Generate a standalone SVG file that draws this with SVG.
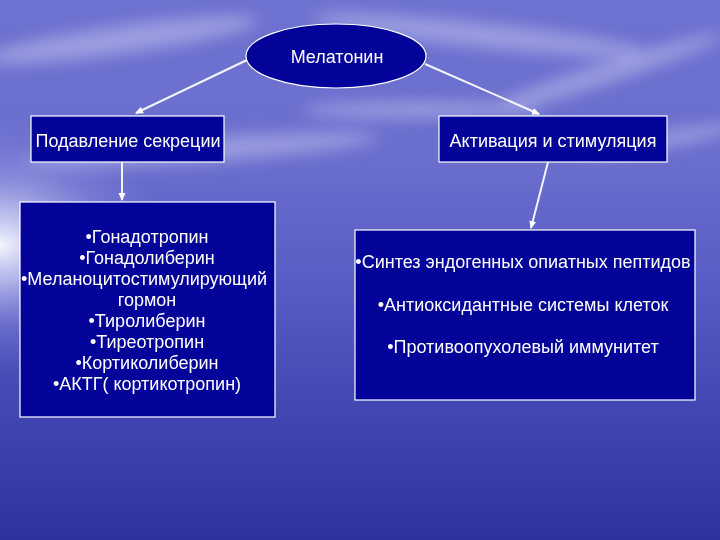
<svg xmlns="http://www.w3.org/2000/svg" width="720" height="540" viewBox="0 0 720 540">
<defs>
<style>
.box{fill:#03039a;stroke:#ffffff;stroke-width:1.2}
.t{font-family:"Liberation Sans",Arial,sans-serif;font-size:18px;fill:#ffffff;text-anchor:middle}
.c{stroke:#f4f4ff;stroke-width:2;fill:none;marker-end:url(#ah)}
</style>
<marker id="ah" markerWidth="8" markerHeight="8" refX="7" refY="4" orient="auto" markerUnits="userSpaceOnUse">
<path d="M0,0.5 L8,4 L0,7.5 z" fill="#ffffff"/>
</marker>
<linearGradient id="bg" x1="0" y1="0" x2="0" y2="1">
<stop offset="0" stop-color="#6e72d0"/>
<stop offset="0.3" stop-color="#6a6ecd"/>
<stop offset="0.5" stop-color="#5a5ec6"/>
<stop offset="0.75" stop-color="#4347b4"/>
<stop offset="1" stop-color="#2e319f"/>
</linearGradient>
<radialGradient id="glow" gradientUnits="userSpaceOnUse" cx="0" cy="245" r="170" gradientTransform="translate(0 245) scale(1 0.75) translate(0 -245)">
<stop offset="0" stop-color="#f4f6ff" stop-opacity="1"/>
<stop offset="0.3" stop-color="#d0d4f4" stop-opacity="0.7"/>
<stop offset="0.65" stop-color="#9ea2e6" stop-opacity="0.3"/>
<stop offset="1" stop-color="#8a8ee0" stop-opacity="0"/>
</radialGradient>
<filter id="blur" x="-50%" y="-50%" width="200%" height="200%"><feGaussianBlur stdDeviation="8"/></filter>
</defs>
<g id="background">
<rect width="720" height="540" fill="url(#bg)"/>
<g filter="url(#blur)" fill="#c9ccf2" opacity="0.5">
<ellipse cx="120" cy="40" rx="140" ry="14" transform="rotate(-8 120 40)"/>
<ellipse cx="480" cy="35" rx="170" ry="12" transform="rotate(6 480 35)"/>
<ellipse cx="600" cy="75" rx="130" ry="10" transform="rotate(-18 600 75)"/>
<ellipse cx="200" cy="150" rx="180" ry="12" transform="rotate(-4 200 150)"/>
<ellipse cx="420" cy="110" rx="120" ry="8"/>
<ellipse cx="660" cy="140" rx="80" ry="8" transform="rotate(-10 660 140)"/>
</g>
<rect x="0" y="60" width="240" height="370" fill="url(#glow)"/>
</g>
<g id="connectors">
<line class="c" x1="247" y1="60" x2="136" y2="113"/>
<line class="c" x1="425" y1="64" x2="539" y2="114"/>
<line class="c" x1="122" y1="162" x2="122" y2="200"/>
<line class="c" x1="548" y1="162" x2="531" y2="228"/>
</g>
<g id="melatonin">
<ellipse cx="336" cy="56" rx="90" ry="32" fill="#03039a" stroke="#ffffff" stroke-width="1.2"/>
<text class="t" x="337" y="63">Мелатонин</text>
</g>
<g id="suppression">
<rect class="box" x="31" y="116" width="193" height="46"/>
<text class="t" x="128" y="147">Подавление секреции</text>
</g>
<g id="activation">
<rect class="box" x="439" y="116" width="228" height="46"/>
<text class="t" x="553" y="147">Активация и стимуляция</text>
</g>
<g id="suppressed-list">
<rect class="box" x="20" y="202" width="255" height="215"/>
<text class="t" x="147" y="243">•Гонадотропин</text>
<text class="t" x="147" y="264">•Гонадолиберин</text>
<text class="t" x="144" y="285">•Меланоцитостимулирующий</text>
<text class="t" x="147" y="306">гормон</text>
<text class="t" x="147" y="327">•Тиролиберин</text>
<text class="t" x="147" y="348">•Тиреотропин</text>
<text class="t" x="147" y="369">•Кортиколиберин</text>
<text class="t" x="147" y="390">•АКТГ( кортикотропин)</text>
</g>
<g id="activated-list">
<rect class="box" x="355" y="230" width="340" height="170"/>
<text class="t" x="523" y="268">•Синтез эндогенных опиатных пептидов</text>
<text class="t" x="523" y="311">•Антиоксидантные системы клеток</text>
<text class="t" x="523" y="353">•Противоопухолевый иммунитет</text>
</g>
</svg>
